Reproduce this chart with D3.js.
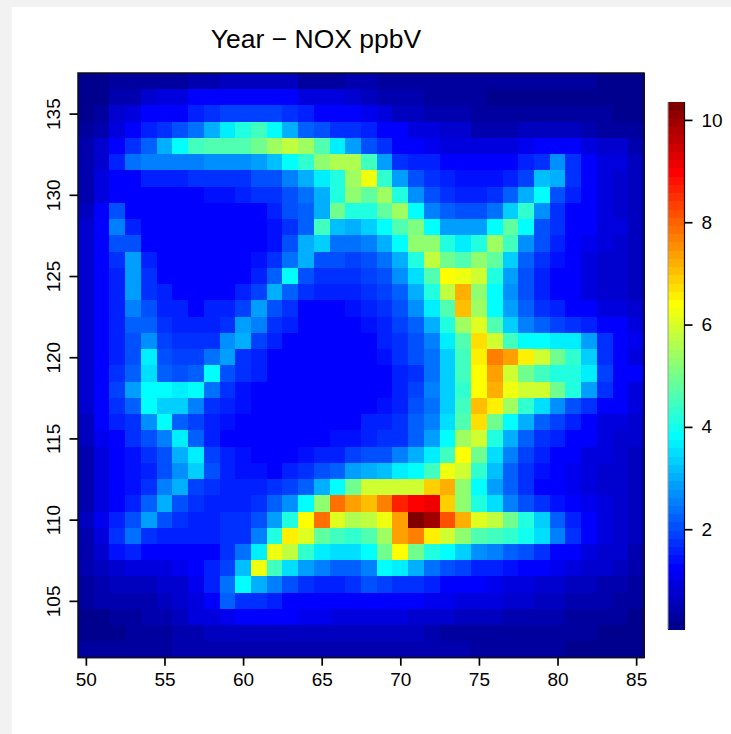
<!DOCTYPE html>
<html>
<head>
<meta charset="utf-8">
<script src="https://cdn.jsdelivr.net/npm/d3@7"></script>
<style>
html,body{margin:0;padding:0;background:#f2f2f2;overflow:hidden}
svg{display:block}
text{font-family:"Liberation Sans",Arial,sans-serif;fill:#000}
</style>
</head>
<body>
<svg id="c" width="731" height="734"></svg>
<script>
const chartTitle = "Year \u2212 NOX ppbV";
const xTicks = [50,55,60,65,70,75,80,85];
const yTicks = [105,110,115,120,125,130,135];
const barTicks = [2,4,6,8,10];
const xStart = 50;          // first column centre
const yStart = 137;         // first row centre
const zMin = 0.05, zMax = 10.35;
const jetStops = ["#00008F","#0000FF","#00FFFF","#FFFF00","#FF0000","#800000"];
const jetPos = [0,7/63,23/63,39/63,55/63,1];
const noxRows = [
[.1,.1,.25,.25,.25,.35,.35,.5,.5,.55,.55,.55,.55,.55,.35,.35,.35,.5,.5,.35,.35,.35,.25,.25,.25,.25,.25,.25,.25,.25,.25,.25,.25,.12,.12,.1],
[.15,.2,.5,.5,.7,.9,.9,1.2,1.2,1.2,1.3,1.3,1.3,1.3,1,1,1,.7,.65,.5,.5,.5,.3,.3,.3,.3,.2,.2,.2,.2,.2,.2,.2,.15,.15,.1],
[.2,.3,.7,1,1.2,1.3,1.3,1.6,1.7,1.85,1.85,1.85,1.85,1.7,1.5,1.3,1.3,1.3,1.1,.9,.6,.6,.5,.5,.5,.3,.3,.3,.3,.3,.3,.3,.3,.3,.2,.15],
[.3,.4,.9,1.3,1.5,1.8,2,2.4,3,3.7,4.2,4.4,3.9,3,2.3,2.1,1.8,1.7,1.5,1.3,1.2,.9,.9,.8,.7,.5,.5,.5,.55,.6,.6,.6,.4,.3,.25,.25],
[.4,.7,1.3,1.7,2.2,3.1,3.9,4.5,4.7,4.7,4.7,4.9,5.4,5.7,5.4,4.6,3.7,2.8,2.1,1.7,1.3,1.3,1.1,1,1,1,1,1,1.1,1.3,1.3,1.3,1,.7,.7,.45],
[.4,.8,1.5,2.4,2.5,2.5,2.5,2.5,2.7,2.7,2.7,2.8,3.2,3.9,4.3,5.2,5.6,5.6,4.5,2.8,1.8,1.6,1.5,1.3,1.3,1.3,1.3,1.3,1.5,1.7,2.7,1.8,1.2,.9,.9,.6],
[.45,.9,1.3,1.3,1.5,1.6,1.6,1.7,1.7,1.8,1.8,2,2.1,2.6,3.1,3.7,4.2,5.5,6.3,4.3,2.8,2.1,1.7,1.6,1.45,1.45,1.45,1.5,1.9,3.2,3.1,1.8,1.3,1,.8,.6],
[.45,.9,1.3,1.3,1.3,1.3,1.3,1.3,1.45,1.45,1.6,1.7,1.8,2.1,2.4,3,4.2,5.2,4.8,5.5,4.2,2.7,2,1.7,1.6,1.6,1.7,2.3,3.1,3.9,2.1,1.5,1.3,1,.8,.6],
[.6,1.2,2,1.3,1.3,1.3,1.3,1.3,1.3,1.3,1.3,1.2,1.5,2,2.3,3,5,4.1,4.1,4.8,5.5,3.9,2.5,2.2,2.1,2.1,2.4,3.4,4.3,2.7,1.8,1.3,1.2,.9,.8,.6],
[.8,1.3,2.5,1.6,1.3,1.3,1.25,1.25,1.25,1.3,1.3,1.3,1.45,1.8,2.3,4.4,3.2,3.1,3.3,3.9,4.6,5.1,3.9,2.8,2.8,2.8,3.9,4.8,3.9,2.1,1.7,1.3,1.3,1,.9,.6],
[.8,1.3,2,2,1.25,1.25,1.2,1.2,1.2,1.2,1.25,1.3,1.4,2,3,3.4,2.4,2.4,2.6,3,3.9,5.3,5.3,4.1,3.6,4.1,5.5,4.4,2.7,2.1,1.6,1.3,1.15,.9,.8,.6],
[.8,1.3,1.7,2.8,1.6,1.3,1.3,1.2,1.2,1.25,1.3,1.4,1.8,2.4,3.1,2.1,2,1.9,2,2.4,3,4.1,5.8,5,4.6,5.3,4.8,3.3,2.2,1.7,1.4,1.3,1,.8,.85,.55],
[.8,1.3,1.6,2.9,1.8,1.3,1.3,1.3,1.3,1.3,1.3,1.6,2.3,3.9,2.1,1.8,1.7,1.8,1.9,2,2.7,3.5,4.7,6.4,6.2,5.9,4.1,2.8,2,1.6,1.3,1.2,1,.8,.7,.55],
[.8,1.3,1.6,2.9,1.8,1.5,1.3,1.3,1.3,1.3,1.6,1.9,3.1,2.2,1.8,1.6,1.6,1.6,1.7,1.9,2.2,3.1,4.2,5.8,7.2,5.3,3.9,2.7,2,1.6,1.3,1.3,1,.8,.7,.6],
[.8,1.3,1.6,2.5,2,1.6,1.5,1.3,1.5,1.6,1.85,2.9,2,1.7,1.3,1.3,1.3,1.4,1.6,1.7,2.1,2.7,3.6,4.6,7,5.4,3.9,2.9,2.2,1.8,1.5,1.3,1.3,1,.9,.7],
[.8,1.3,1.5,2.2,2.3,1.7,1.6,1.5,1.6,1.8,2.8,2.5,1.8,1.5,1.3,1.3,1.3,1.3,1.45,1.6,1.9,2.3,3.1,4.2,5.4,6.1,4.6,3.4,2.5,2.3,1.9,1.7,1.5,1.2,1.2,.9],
[.8,1.3,1.5,2.1,2.7,1.9,1.8,1.8,1.8,2.7,3,1.9,1.5,1.3,1.3,1.3,1.3,1.3,1.3,1.5,1.7,2.1,2.6,3.6,4.7,6.8,5.9,4.4,3.9,3.8,3.7,3.6,2.9,1.7,1.3,1.1],
[.8,1.3,1.6,2.1,3.6,2.1,1.9,1.9,2.4,2.9,1.8,1.5,1.3,1.3,1.3,1.3,1.25,1.3,1.3,1.45,1.7,2,2.4,3.4,4.4,6.5,7.7,7.3,6.5,5.9,5,4.3,3.4,1.8,1.3,1],
[.7,1.3,1.7,2.2,3.5,2.2,2,2.3,3.9,2.1,1.7,1.5,1.3,1.25,1.25,1.25,1.25,1.2,1.2,1.3,1.5,1.7,2.4,3.3,4.4,6.4,7.3,5.9,5,4.5,4.2,4.2,3.6,1.9,1.3,1.3],
[.7,1.3,1.9,2.9,3.9,3.9,3.6,3.8,2.4,1.7,1.4,1.3,1.3,1.25,1.25,1.3,1.3,1.3,1.3,1.3,1.5,1.9,2.5,3.3,4.3,6.4,7.2,6.3,6,6,5,4.2,2.9,1.8,1.3,1],
[.7,1.3,1.7,2.3,3.9,3.4,3.3,2.6,1.8,1.5,1.4,1.3,1.3,1.2,1.2,1.2,1.25,1.3,1.3,1.4,1.6,2,2.4,3.3,4.4,7,6.5,5.4,4.3,3.5,2.7,2,1.7,1.3,1.2,1],
[.6,1.3,1.5,1.8,2.7,3.8,2.3,1.9,1.6,1.4,1.3,1.3,1.25,1.25,1.25,1.3,1.3,1.3,1.5,1.6,1.8,2.2,2.6,3.5,4.6,6.8,5,3.9,3,2.2,1.9,1.5,1.3,1,.9,.8],
[.6,1.1,1.3,1.7,2,2.6,3.6,2.2,1.6,1.3,1.3,1.3,1.3,1.3,1.3,1.3,1.45,1.45,1.5,1.7,1.8,2.2,2.8,3.8,5.4,6,4.2,3,2.2,1.8,1.6,1.3,1.3,1,.8,.7],
[.5,.9,1.3,1.45,1.7,2.1,3,3.6,1.9,1.5,1.4,1.3,1.3,1.3,1.45,1.5,1.6,1.9,2,2.1,2.5,3.1,3.6,4.4,6.4,5,3.5,2.5,1.9,1.5,1.3,1.2,1,.9,.8,.6],
[.5,.9,1.3,1.4,1.6,2,2.7,3.3,2.1,1.5,1.4,1.4,1.3,1.55,1.8,2,2.3,2.8,3.1,3.2,3.7,3.9,4.5,6.2,6,4.3,3.2,2.3,1.8,1.4,1.3,1.1,1,.8,.8,.6],
[.5,.9,1.3,1.45,1.7,2.5,3.1,1.9,1.7,1.6,1.5,1.5,1.8,1.9,2.3,3,3.9,5,5.9,5.9,5.9,5.9,6.9,7.2,5.2,3.9,2.8,2.2,1.7,1.3,1.25,1.1,1,.8,.7,.6],
[.5,.9,1.3,1.6,2.2,3,2,1.7,1.6,1.5,1.6,1.7,2.2,2.7,3.9,5.2,7.8,7.3,7.1,7.7,8.7,9,9.1,6.9,5.2,4.2,3.5,2.6,2.1,1.7,1.4,1.3,1.1,.9,.75,.6],
[.6,1.1,1.5,2.1,2.9,2,1.7,1.6,1.6,1.7,1.8,2.1,2.9,4.2,6.4,7.9,6.1,5.6,5.7,6.3,7.4,10.3,9.9,8.1,7.2,6.1,5.7,5,4.1,3.4,2.3,1.6,1.3,1,.85,.65],
[.5,.95,1.8,2.4,1.7,1.6,1.5,1.5,1.6,1.7,1.8,2.6,4.1,6.5,6.1,4.8,4.5,4.3,4.7,5.5,7.4,7.7,6.5,6,5.3,4.7,4.5,4.3,4,3.5,2.6,1.7,1.3,.95,.8,.6],
[.45,.85,1.45,1.5,1.3,1.3,1.3,1.3,1.3,1.7,2.4,3.7,6.2,5.8,4.3,3.7,3.5,3.5,3.9,5,6.4,5,4.2,3.8,3.3,2.7,2.5,2.2,2,1.7,1.3,1.2,1,.85,.7,.5],
[.4,.6,.85,1,1,1,1.1,1.2,1.5,1.9,3.2,6.2,4.4,3.5,2.9,2.5,2.3,2.3,2.6,3.9,3.7,3.1,2.4,2.1,1.9,1.6,1.5,1.4,1.3,1.2,1.05,.9,.8,.7,.6,.45],
[.3,.5,.65,.65,.65,.75,.85,1.1,1.5,2.4,3.9,3,2.5,2.1,1.7,1.6,1.6,1.7,2,1.9,1.8,1.7,1.5,1.3,1.2,1.2,1.1,1,.9,.8,.7,.65,.55,.5,.45,.35],
[.25,.4,.5,.5,.5,.6,.75,.95,1.3,2.2,1.8,1.7,1.6,1.3,1.3,1.3,1.3,1.3,1.3,1.3,1.3,1.3,1.1,1.05,1,.9,.9,.8,.75,.65,.55,.5,.45,.4,.35,.3],
[.2,.2,.35,.35,.5,.5,.65,.9,1,1.1,1.3,1.3,1.2,1.2,1.05,1.05,1,1,.9,.9,.9,.75,.75,.7,.6,.6,.6,.45,.45,.4,.4,.35,.3,.25,.25,.2],
[.2,.15,.2,.3,.35,.35,.5,.5,.55,.65,.65,.65,.6,.6,.55,.55,.55,.55,.6,.55,.55,.55,.45,.35,.35,.35,.35,.35,.35,.3,.3,.3,.25,.2,.2,.15],
[.25,.25,.25,.25,.3,.3,.45,.45,.5,.5,.5,.5,.5,.4,.4,.4,.4,.4,.4,.4,.4,.4,.4,.4,.4,.35,.35,.35,.35,.35,.35,.2,.2,.2,.2,.2]
];

const svg = d3.select("#c");
svg.append("rect").attr("x",12).attr("y",7).attr("width",719).attr("height",727).attr("fill","#fff");

const plot = {l:78, r:644, t:73, b:657.7};
const x = d3.scaleLinear().domain([xStart-.5, xStart+35.5]).range([plot.l, plot.r]);
const y = d3.scaleLinear().domain([yStart+.5, yStart-35.5]).range([plot.t, plot.b]);

const jetInterp = d3.scaleLinear().domain(jetPos).range(jetStops).interpolate(d3.interpolateRgb);
const palette = d3.range(64).map(i => jetInterp(i/63));
const color = d3.scaleQuantize().domain([zMin, zMax]).range(palette);

const cells = noxRows.flatMap((row,j) => row.map((v,i) => ({lon:xStart+i, lat:yStart-j, v})));
svg.append("g").attr("shape-rendering","crispEdges").selectAll("rect").data(cells).join("rect")
  .attr("x", d => x(d.lon-.5))
  .attr("y", d => y(d.lat+.5))
  .attr("width", d => x(d.lon+.5)-x(d.lon-.5)+.5)
  .attr("height", d => y(d.lat-.5)-y(d.lat+.5)+.5)
  .attr("fill", d => color(d.v));

svg.append("rect").attr("x",plot.l).attr("y",plot.t).attr("width",plot.r-plot.l).attr("height",plot.b-plot.t)
  .attr("fill","none").attr("stroke","#111").attr("stroke-width",1.5);

const fs = 19;
function style(g){
  g.select(".domain").remove();
  g.selectAll("line").attr("stroke","#000").attr("stroke-width",1.7);
  g.selectAll("text").style("font-size",fs+"px").style("font-family",'"Liberation Sans",Arial,sans-serif');
}
svg.append("g").attr("transform",`translate(0,${plot.b})`)
  .call(d3.axisBottom(x).tickValues(xTicks).tickSize(8).tickPadding(7).tickFormat(d3.format("d"))).call(style);
const ya = svg.append("g").attr("transform",`translate(${plot.l},0)`)
  .call(d3.axisLeft(y).tickValues(yTicks).tickSize(8.5).tickPadding(0).tickFormat(d3.format("d"))).call(style);
ya.selectAll("text")
  .attr("x",0).attr("y",0).attr("dy",null)
  .attr("text-anchor","middle")
  .attr("transform","translate(-18,0) rotate(-90)");

const bar = {l:668, r:684.5, t:102, b:629};
const by = d3.scaleLinear().domain([zMin, zMax]).range([bar.b, bar.t]);
svg.append("g").attr("shape-rendering","crispEdges").selectAll("rect").data(palette).join("rect")
  .attr("x",bar.l).attr("width",bar.r-bar.l)
  .attr("y",c=>by(color.invertExtent(c)[1]))
  .attr("height",c=>by(color.invertExtent(c)[0])-by(color.invertExtent(c)[1])+.5)
  .attr("fill",c=>c);
svg.append("line").attr("x1",bar.l).attr("x2",bar.l).attr("y1",bar.t).attr("y2",bar.b).attr("stroke","#999").attr("stroke-width",1);
svg.append("line").attr("x1",bar.r).attr("x2",bar.r).attr("y1",bar.t).attr("y2",bar.b).attr("stroke","#111").attr("stroke-width",1.2);
svg.append("g").attr("transform",`translate(${bar.r},0)`)
  .call(d3.axisRight(by).tickValues(barTicks).tickSize(8).tickPadding(9).tickFormat(d3.format("d"))).call(style);

svg.append("text").attr("x",316).attr("y",48).attr("text-anchor","middle").style("font-size","26.5px").text(chartTitle);
</script>
</body>
</html>
